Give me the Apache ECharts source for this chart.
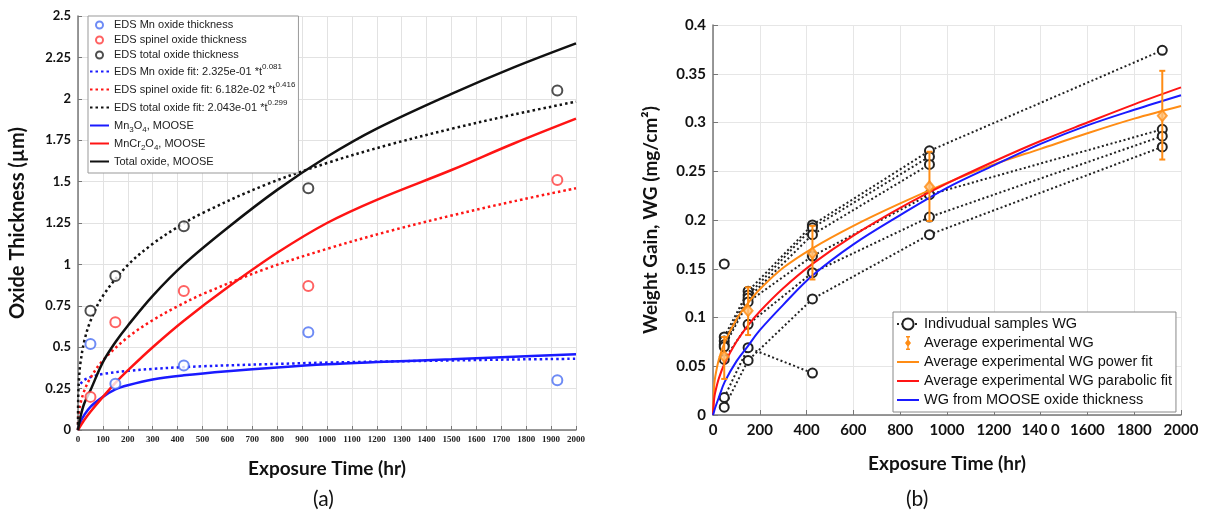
<!DOCTYPE html>
<html>
<head>
<meta charset="utf-8">
<script src="https://cdn.jsdelivr.net/npm/echarts@6/dist/echarts.min.js"></script>
<style>
html, body { margin: 0; padding: 0; background: #fff; }
#main { width: 1206px; height: 521px; }
</style>
</head>
<body>
<div id="main"></div>
<script>
// ---------- (a) oxide thickness ----------
const edsTimes = [50, 150, 425, 925, 1925];
const edsMn = [0.52, 0.28, 0.39, 0.59, 0.30];
const edsSpinel = [0.20, 0.65, 0.84, 0.87, 1.51];
const edsTotal = [0.72, 0.93, 1.23, 1.46, 2.05];

// dotted power-law fits
const fitTimes = [0, 1, 5, 10, 25, 50, 100, 200, 300, 400, 500, 750, 1000, 1250, 1500, 1750, 2000];
const fitMn = [null, null, null, 0.28, 0.302, 0.319, 0.338, 0.357, 0.369, 0.378, 0.385, 0.397, 0.407, 0.414, 0.420, 0.426, 0.430];
const fitSpinel = [0, 0.062, 0.121, 0.161, 0.236, 0.315, 0.420, 0.560, 0.663, 0.747, 0.820, 0.971, 1.094, 1.201, 1.295, 1.381, 1.460];
const fitTotal = [0, 0.204, 0.331, 0.407, 0.535, 0.658, 0.810, 0.996, 1.124, 1.225, 1.310, 1.479, 1.612, 1.723, 1.819, 1.905, 1.983];

// MOOSE solid curves
const mooseTimes = [0, 10, 25, 50, 100, 150, 200, 300, 425, 600, 800, 1000, 1200, 1500, 1750, 2000];
const mooseMn = [0, 0.05, 0.09, 0.14, 0.20, 0.245, 0.27, 0.305, 0.33, 0.355, 0.378, 0.397, 0.41, 0.427, 0.443, 0.457];
const mooseSpinel = [0, 0.025, 0.06, 0.11, 0.20, 0.285, 0.36, 0.50, 0.66, 0.86, 1.07, 1.25, 1.39, 1.57, 1.73, 1.88];
const mooseTotal = [0, 0.08, 0.16, 0.24, 0.41, 0.53, 0.63, 0.81, 1.0, 1.22, 1.45, 1.65, 1.82, 2.03, 2.19, 2.335];

// ---------- (b) weight gain ----------
const wgTimes = [48, 150, 425, 925, 1920];
const samples = [
  [0.080, 0.127, 0.195, 0.271, 0.374],
  [0.076, 0.123, 0.192, 0.265, null],
  [0.072, 0.120, 0.185, 0.257, null],
  [0.070, 0.116, 0.163, 0.226, 0.293],
  [0.057, 0.093, 0.146, 0.203, 0.286],
  [0.008, 0.056, 0.119, 0.185, 0.275],
  [0.018, 0.069, 0.043, null, null],
  [0.155, null, null, null, null]
];
const avgMean = [0.060, 0.107, 0.166, 0.234, 0.307];
const avgLow = [0.037, 0.082, 0.139, 0.199, 0.262];
const avgHigh = [0.080, 0.131, 0.194, 0.270, 0.353];

const curveTimes = [0, 5, 10, 25, 50, 100, 150, 200, 300, 425, 600, 800, 1000, 1200, 1400, 1600, 1800, 2000];
const powerFit = [0, 0.030, 0.040, 0.057, 0.0745, 0.098, 0.115, 0.129, 0.151, 0.171, 0.194, 0.217, 0.238, 0.257, 0.273, 0.289, 0.304, 0.317];
const parabolicFit = [0, 0.0168, 0.0238, 0.0376, 0.0531, 0.0751, 0.092, 0.1062, 0.130, 0.155, 0.184, 0.2124, 0.2375, 0.260, 0.281, 0.300, 0.3186, 0.336];
const mooseWG = [0, 0.004, 0.008, 0.018, 0.034, 0.055, 0.071, 0.087, 0.113, 0.143, 0.175, 0.205, 0.233, 0.256, 0.278, 0.297, 0.313, 0.328];

const xLabelsB = ['0', '200', '400', '600', '800', '1000', '1200', '140 0', '1600', '1800', '2000'];

const legendTextA = {
  'EDS Mn oxide fit': '{b|EDS Mn oxide fit: 2.325e-01 *t}{sup|0.081}',
  'EDS spinel oxide fit': '{b|EDS spinel oxide fit: 6.182e-02 *t}{sup|0.416}',
  'EDS total oxide fit': '{b|EDS total oxide fit: 2.043e-01 *t}{sup|0.299}',
  'Mn3O4, MOOSE': '{b|Mn}{sub|3}{b|O}{sub|4}{b|, MOOSE}',
  'MnCr2O4, MOOSE': '{b|MnCr}{sub|2}{b|O}{sub|4}{b|, MOOSE}',
  'Total oxide, MOOSE': '{b|Total oxide, MOOSE}'
};

const pairs = (xs, ys) => xs.map((x, i) => [x, ys[i]]);
// legend entry showing just the line, no marker
const lineOnly = name => ({ name, itemStyle: { opacity: 0 } });

const BLUE = '#1a1aff', RED = '#ff1414', BLACK = '#111';
const BLUE_PT = '#4a6ef2', RED_PT = '#ff3b3b';
const ORANGE = '#ff8c14';

const chart = echarts.init(document.getElementById('main'));

function edsScatter(name, ys, color) {
  return {
    name, type: 'scatter', xAxisIndex: 0, yAxisIndex: 0, z: 5,
    symbol: 'emptyCircle', symbolSize: 10,
    itemStyle: { color: color, borderColor: color, borderWidth: 1.5 },
    data: pairs(edsTimes, ys)
  };
}
function curveA(name, xs, ys, color, dotted) {
  return {
    name, type: 'line', xAxisIndex: 0, yAxisIndex: 0, symbol: 'none',
    smooth: 0.35,
    lineStyle: { color: color, width: 2.5, type: dotted ? [2.5, 3] : 'solid' },
    itemStyle: { color: color },
    data: pairs(xs, ys)
  };
}
function curveB(name, ys, color) {
  return {
    name, type: 'line', xAxisIndex: 1, yAxisIndex: 1, symbol: 'none',
    smooth: 0.35, z: 3,
    lineStyle: { color: color, width: 2 },
    itemStyle: { color: color },
    data: pairs(curveTimes, ys)
  };
}

const sampleSeries = samples.map(s => ({
  name: 'Indivudual samples WG', type: 'line', xAxisIndex: 1, yAxisIndex: 1,
  symbol: 'emptyCircle', symbolSize: 9, showSymbol: true, z: 2,
  lineStyle: { color: '#222', width: 2, type: [2, 2.5] },
  itemStyle: { color: '#222', borderColor: '#222', borderWidth: 2 },
  data: pairs(wgTimes, s)
}));

const errorIcon = 'path://M9,0 L13,0 L13,1.4 L11.7,1.4 L11.7,4 L14,7 L11.7,10 L11.7,12.6 L13,12.6 L13,14 L9,14 L9,12.6 L10.3,12.6 L10.3,10 L8,7 L10.3,4 L10.3,1.4 L9,1.4 Z';

const axisFont = 'Lato';

const option = {
  animation: false,
  backgroundColor: '#fff',
  grid: [
    { left: 78, top: 16, width: 498, height: 414 },
    { left: 713, top: 25, width: 468, height: 390 }
  ],
  xAxis: [
    {
      gridIndex: 0, type: 'value', min: 0, max: 2000, interval: 100,
      name: 'Exposure Time (hr)', nameLocation: 'middle', nameGap: 29,
      nameTextStyle: { fontFamily: axisFont, fontWeight: 'bold', fontSize: 19, color: '#111' },
      axisLine: { lineStyle: { color: '#777', width: 1.5 } },
      axisTick: { inside: true, length: 4, lineStyle: { color: '#777' } },
      axisLabel: { interval: 0, margin: 5, fontFamily: 'Liberation Serif', fontWeight: 'bold', fontSize: 9, color: '#222',
        formatter: v => String(v) },
      splitLine: { show: true, lineStyle: { color: '#e2e2e2' } }
    },
    {
      gridIndex: 1, type: 'value', min: 0, max: 2000, interval: 200,
      name: 'Exposure Time (hr)', nameLocation: 'middle', nameGap: 39,
      nameTextStyle: { fontFamily: axisFont, fontWeight: 'bold', fontSize: 19, color: '#111' },
      axisLine: { lineStyle: { color: '#777', width: 1.5 } },
      axisTick: { inside: true, length: 5, lineStyle: { color: '#777' } },
      axisLabel: { interval: 0, margin: 8, fontFamily: axisFont, fontWeight: 'bold', fontSize: 15, color: '#111',
        formatter: v => xLabelsB[Math.round(v / 200)] },
      splitLine: { show: true, lineStyle: { color: '#e6e6e6' } }
    }
  ],
  yAxis: [
    {
      gridIndex: 0, type: 'value', min: 0, max: 2.5, interval: 0.25,
      name: 'Oxide Thickness (µm)', nameLocation: 'middle', nameGap: 50,
      nameTextStyle: { fontFamily: axisFont, fontWeight: 'bold', fontSize: 20, color: '#111' },
      axisLine: { show: true, lineStyle: { color: '#777', width: 1.5 } },
      axisTick: { show: true, inside: true, length: 4, lineStyle: { color: '#777' } },
      axisLabel: { margin: 7, fontFamily: axisFont, fontWeight: 'bold', fontSize: 13, color: '#111' },
      splitLine: { show: true, lineStyle: { color: '#e2e2e2' } }
    },
    {
      gridIndex: 1, type: 'value', min: 0, max: 0.4, interval: 0.05,
      name: 'Weight Gain, WG (mg/cm²)', nameLocation: 'middle', nameGap: 53,
      nameTextStyle: { fontFamily: axisFont, fontWeight: 'bold', fontSize: 19, color: '#111' },
      axisLine: { show: true, lineStyle: { color: '#777', width: 1.5 } },
      axisTick: { show: true, inside: true, length: 5, lineStyle: { color: '#777' } },
      axisLabel: { margin: 7, fontFamily: axisFont, fontWeight: 'bold', fontSize: 15, color: '#111' },
      splitLine: { show: true, lineStyle: { color: '#e6e6e6' } }
    }
  ],
  legend: [
    {
      orient: 'vertical', left: 88, top: 16, padding: [2, 3, 3, 1],
      itemGap: 1, itemWidth: 19, itemHeight: 7,
      backgroundColor: '#fff', borderColor: '#999', borderWidth: 1,
      textStyle: {
        fontFamily: 'Liberation Sans', fontSize: 11, color: '#222', lineHeight: 14,
        rich: {
          b: { fontFamily: 'Liberation Sans', fontSize: 11, color: '#222', lineHeight: 17 },
          sup: { fontFamily: 'Liberation Sans', fontSize: 8, color: '#222', lineHeight: 9, verticalAlign: 'top' },
          sub: { fontFamily: 'Liberation Sans', fontSize: 8, color: '#222', lineHeight: 9, verticalAlign: 'bottom' }
        }
      },
      formatter: name => legendTextA[name] || name,
      data: ['EDS Mn oxide thickness', 'EDS spinel oxide thickness', 'EDS total oxide thickness',
        lineOnly('EDS Mn oxide fit'), lineOnly('EDS spinel oxide fit'), lineOnly('EDS total oxide fit'),
        lineOnly('Mn3O4, MOOSE'), lineOnly('MnCr2O4, MOOSE'), lineOnly('Total oxide, MOOSE')]
    },
    {
      orient: 'vertical', left: 893, top: 312, padding: [3, 4, 3, 3],
      itemGap: 1, itemWidth: 22, itemHeight: 14,
      backgroundColor: '#fff', borderColor: '#888', borderWidth: 1,
      textStyle: { fontFamily: 'Liberation Sans', fontSize: 14.5, color: '#111', lineHeight: 18 },
      data: ['Indivudual samples WG',
        { name: 'Average experimental WG', icon: errorIcon },
        lineOnly('Average experimental WG power fit'), lineOnly('Average experimental WG parabolic fit'),
        lineOnly('WG from MOOSE oxide thickness')]
    }
  ],
  graphic: [
    { type: 'text', left: 313, top: 489, style: { text: '(a)', font: '21px Lato', fill: '#111' } },
    { type: 'text', left: 906, top: 489, style: { text: '(b)', font: '21px Lato', fill: '#111' } }
  ],
  series: [
    curveA('EDS Mn oxide fit', fitTimes, fitMn, BLUE, true),
    curveA('EDS spinel oxide fit', fitTimes, fitSpinel, RED, true),
    curveA('EDS total oxide fit', fitTimes, fitTotal, BLACK, true),
    curveA('Mn3O4, MOOSE', mooseTimes, mooseMn, BLUE, false),
    curveA('MnCr2O4, MOOSE', mooseTimes, mooseSpinel, RED, false),
    curveA('Total oxide, MOOSE', mooseTimes, mooseTotal, BLACK, false),
    edsScatter('EDS Mn oxide thickness', edsMn, BLUE_PT),
    edsScatter('EDS spinel oxide thickness', edsSpinel, RED_PT),
    edsScatter('EDS total oxide thickness', edsTotal, '#222'),

    ...sampleSeries,
    curveB('Average experimental WG power fit', powerFit, ORANGE),
    curveB('Average experimental WG parabolic fit', parabolicFit, RED),
    curveB('WG from MOOSE oxide thickness', mooseWG, BLUE),
    {
      name: 'Average experimental WG', type: 'custom', xAxisIndex: 1, yAxisIndex: 1, z: 6,
      encode: { x: 0, y: [1, 2] },
      itemStyle: { color: ORANGE },
      renderItem: function (params, api) {
        const x = api.value(0);
        const lo = api.coord([x, api.value(1)]);
        const hi = api.coord([x, api.value(2)]);
        const style = { stroke: ORANGE, lineWidth: 2 };
        return {
          type: 'group',
          children: [
            { type: 'line', shape: { x1: lo[0], y1: lo[1], x2: hi[0], y2: hi[1] }, style },
            { type: 'line', shape: { x1: lo[0] - 3, y1: lo[1], x2: lo[0] + 3, y2: lo[1] }, style },
            { type: 'line', shape: { x1: hi[0] - 3, y1: hi[1], x2: hi[0] + 3, y2: hi[1] }, style }
          ]
        };
      },
      data: wgTimes.map((t, i) => [t, avgLow[i], avgHigh[i]])
    },
    {
      name: 'Average experimental WG', type: 'scatter', xAxisIndex: 1, yAxisIndex: 1, z: 7,
      symbol: 'diamond', symbolSize: [9, 11],
      itemStyle: { color: '#ffc27a', borderColor: ORANGE, borderWidth: 2 },
      data: pairs(wgTimes, avgMean)
    }
  ]
};

chart.setOption(option);
</script>
</body>
</html>
